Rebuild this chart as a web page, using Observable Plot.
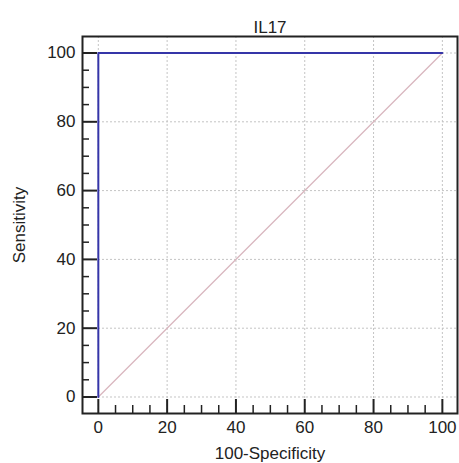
<!DOCTYPE html>
<html><head><meta charset="utf-8">
<script src="https://cdn.jsdelivr.net/npm/d3@7"></script>
<script src="https://cdn.jsdelivr.net/npm/@observablehq/plot@0.6"></script>
<style>body{margin:0;background:#fff}</style>
</head><body><div id="chart"></div>
<script>
const title = "IL17";
const xLabel = "100-Specificity";
const yLabel = "Sensitivity";
const rocFpr = [0, 0, 100];
const rocTpr = [0, 100, 100];
const refX = [0, 100];
const refY = [0, 100];
const majorTicks = [0, 20, 40, 60, 80, 100];
const minorTicks = [5, 10, 15, 25, 30, 35, 45, 50, 55, 65, 70, 75, 85, 90, 95];

const roc = rocFpr.map((x, i) => ({x, y: rocTpr[i]}));
const ref = refX.map((x, i) => ({x, y: refY[i]}));

const chart = Plot.plot({
  width: 459, height: 463,
  marginLeft: 82, marginRight: 2, marginTop: 36, marginBottom: 50,
  style: {fontFamily: "'Liberation Sans', Arial, sans-serif", fontSize: "17px", color: "#222"},
  x: {domain: [-4.6, 104.4]},
  y: {domain: [-4.8, 104.8]},
  marks: [
    Plot.gridX(majorTicks, {stroke: "#c4c4c4", strokeOpacity: 1, strokeDasharray: "2,2"}),
    Plot.gridY(majorTicks, {stroke: "#c4c4c4", strokeOpacity: 1, strokeDasharray: "2,2"}),
    Plot.line(ref, {x: "x", y: "y", stroke: "#d9b6be", strokeWidth: 1.2}),
    Plot.line(roc, {x: "x", y: "y", stroke: "#3535a8", strokeWidth: 2}),
    Plot.axisX({ticks: majorTicks, tickSize: -14, tickPadding: 21, strokeWidth: 2, fontSize: 17, label: xLabel, labelAnchor: "center", labelArrow: "none", labelOffset: 45}),
    Plot.axisX({ticks: minorTicks, tickSize: -8, strokeWidth: 1.5, text: null, label: null}),
    Plot.axisY({ticks: majorTicks, tickSize: -15, tickPadding: 22, strokeWidth: 2, fontSize: 17, label: yLabel, labelAnchor: "center", labelArrow: "none", labelOffset: 70}),
    Plot.axisY({ticks: minorTicks, tickSize: -7, strokeWidth: 1.5, text: null, label: null}),
    Plot.frame({stroke: "#222", strokeWidth: 2}),
    Plot.text([title], {frameAnchor: "top", dy: -16, text: d => d, fontSize: 17, fill: "#222"})
  ]
});
document.getElementById("chart").appendChild(chart);
</script>
</body></html>
